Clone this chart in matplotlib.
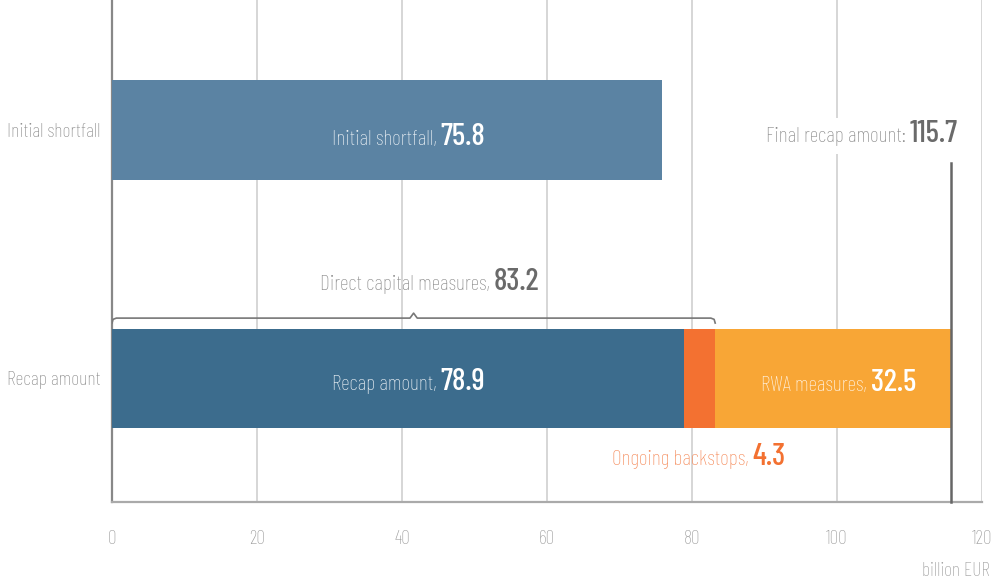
import matplotlib
matplotlib.use("Agg")
import matplotlib.pyplot as plt
import matplotlib.transforms as mtransforms

plt.rcParams['font.family'] = ['Barlow Condensed', 'DejaVu Sans']
plt.rcParams['font.weight'] = 'light'

# data
categories = ["Recap amount", "Initial shortfall"]
initial_shortfall = 75.8
recap_amount = 78.9
ongoing_backstops = 4.3
rwa_measures = 32.5
direct_capital = 83.2
final_recap = 115.7
xticks = [0, 20, 40, 60, 80, 100, 120]

c_init = "#5B83A3"
c_recap = "#3C6C8D"
c_back = "#F37131"
c_rwa = "#F8A636"
c_grey = "#8a8a8a"
c_dark = "#6a6a6a"

fig = plt.figure(figsize=(9.95, 5.87), dpi=100)
ax = fig.add_axes([112 / 995, 1 - 502 / 587, 870 / 995, 502 / 587])
ax.set_xlim(0, 120)
ax.set_ylim(-0.497, 1.523)

bh = 0.40
ax.barh(1, initial_shortfall, height=bh, color=c_init, zorder=3)
ax.barh(0, recap_amount, height=bh, color=c_recap, zorder=3)
ax.barh(0, ongoing_backstops, left=recap_amount, height=bh, color=c_back, zorder=3)
ax.barh(0, rwa_measures, left=recap_amount + ongoing_backstops, height=bh, color=c_rwa, zorder=3)

# grid / spines
for x in xticks[1:]:
    ax.axvline(x, color="#cccccc", lw=1.1, zorder=1)
for s in ["top", "right"]:
    ax.spines[s].set_visible(False)
ax.spines["left"].set_color("#888888")
ax.spines["left"].set_linewidth(1.6)
ax.spines["bottom"].set_color("#aaaaaa")
ax.spines["bottom"].set_linewidth(1.6)

ax.set_xticks(xticks)
ax.set_xticklabels([str(x) for x in xticks])
ax.set_yticks([0, 1])
ax.set_yticklabels(categories)
ax.tick_params(axis="x", length=0, pad=20, labelsize=14, labelcolor="#9a9a9a")
ax.tick_params(axis="y", length=0, pad=8.5, labelsize=14.3, labelcolor=c_grey)
fig.text(990 / 995, 1 - 571 / 587, "billion EUR", ha="right", va="center",
         fontsize=14, color="#9a9a9a")

renderer = fig.canvas.get_renderer()


def two_part(x, y, label, value, c1, c2, s1=15.5, s2=22.5, ha="center", bg=False):
    t1 = ax.text(x, y, label, fontsize=s1, color=c1, ha="left", va="baseline", zorder=5)
    t2 = ax.text(x, y, value, fontsize=s2, color=c2, fontweight="medium",
                 ha="left", va="baseline", zorder=5)
    w1 = t1.get_window_extent(renderer).width
    w2 = t2.get_window_extent(renderer).width
    total = w1 + w2
    if ha == "center":
        start = -total / 2
    else:
        start = -total
    t1.set_transform(mtransforms.offset_copy(ax.transData, fig, x=start, y=0, units="dots"))
    t2.set_transform(mtransforms.offset_copy(ax.transData, fig, x=start + w1, y=0, units="dots"))
    if bg:
        t1.set_bbox(dict(facecolor="white", edgecolor="none", pad=6))
    return t1, t2


white = "#eef3f7"
two_part(40.9, 0.94, "Initial shortfall, ", "75.8", white, "white")
two_part(40.9, -0.046, "Recap amount, ", "78.9", white, "white")
two_part(100.2, -0.049, "RWA measures, ", "32.5", "#fff6ea", "white")
two_part(80.9, -0.348, "Ongoing backstops, ", "4.3", "#F58C5C", c_back)
two_part(43.8, 0.356, "Direct capital measures, ", "83.2", c_grey, c_dark)
two_part(116.7, 0.953, "Final recap amount: ", "115.7", c_grey, c_dark, ha="right", bg=True)

# final recap line
ax.plot([final_recap, final_recap], [-0.497, 0.867], color="#666666", lw=1.8, zorder=4,
        clip_on=False)

# brace over direct capital measures
yb = 0.243
d = 0.02
mid = direct_capital / 2
bx = [0, 0.15, 0.6, mid - 0.5, mid, mid + 0.5, direct_capital - 0.6, direct_capital - 0.15, direct_capital]
by = [yb - d, yb - 0.005, yb, yb, yb + d, yb, yb, yb - 0.005, yb - d]
ax.plot(bx, by, color="#777777", lw=1.2, zorder=4, solid_joinstyle="round")

fig.savefig("out.png", dpi=100)
